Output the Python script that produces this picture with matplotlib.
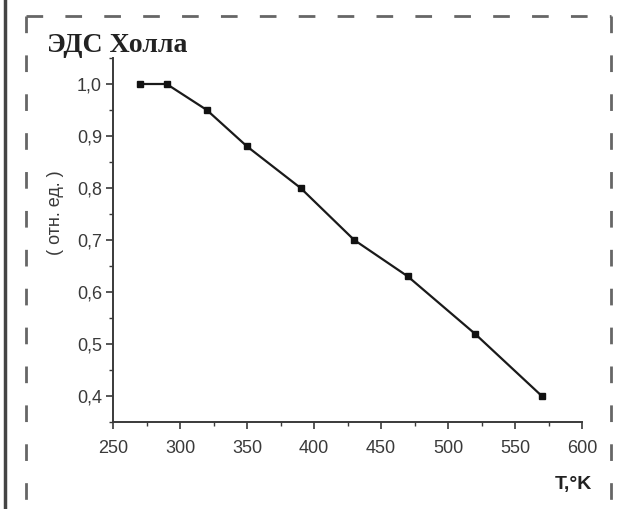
import matplotlib
matplotlib.use("Agg")
import matplotlib.pyplot as plt
from matplotlib.lines import Line2D
from matplotlib.ticker import MultipleLocator, FuncFormatter

# Hall EMF (relative units) versus temperature
temperature = [270, 290, 320, 350, 390, 430, 470, 520, 570]
hall_emf = [1.00, 1.00, 0.95, 0.88, 0.80, 0.70, 0.63, 0.52, 0.40]
x_ticks = [250, 300, 350, 400, 450, 500, 550, 600]
y_ticks = [0.4, 0.5, 0.6, 0.7, 0.8, 0.9, 1.0]

W, H = 618, 509
fig = plt.figure(figsize=(W / 100, H / 100), dpi=100)
ax = fig.add_axes([113 / W, 1 - 422 / H, (582 - 113) / W, (422 - 58) / H])

sans = ["Liberation Sans", "DejaVu Sans"]
ink = "#3a3a3a"

ax.plot(temperature, hall_emf, color="#1a1a1a", lw=1.6, marker="s",
        markersize=5, markerfacecolor="#111111", markeredgecolor="#111111")

ax.set_xlim(250, 600)
ax.set_ylim(0.35, 1.05)
ax.set_xticks(x_ticks)
ax.set_yticks(y_ticks)
ax.xaxis.set_minor_locator(MultipleLocator(25))
ax.yaxis.set_minor_locator(MultipleLocator(0.05))
ax.yaxis.set_major_formatter(FuncFormatter(lambda v, p: f"{v:.1f}".replace(".", ",")))

for side in ("top", "right"):
    ax.spines[side].set_visible(False)
for side in ("left", "bottom"):
    ax.spines[side].set_linewidth(1.4)
    ax.spines[side].set_color(ink)

ax.tick_params(which="major", direction="out", length=5, width=1.2,
               colors=ink, labelsize=13, labelcolor=ink)
ax.tick_params(axis="x", which="major", pad=8)
ax.tick_params(axis="y", which="major", pad=3)
ax.tick_params(which="minor", direction="out", length=3, width=1.0, colors=ink)
for lab in ax.get_xticklabels() + ax.get_yticklabels():
    lab.set_family(sans)

fig.text(55 / W, 1 - 213 / H, "( отн. ед. )", family=sans, fontsize=13, color=ink,
         rotation=90, ha="center", va="center")
fig.text(573 / W, 1 - 484 / H, "T,°K", family=sans, fontsize=14, color="#222222",
         ha="center", va="center", fontweight="bold")
fig.text(47 / W, 1 - 46 / H, "ЭДС Холла", family=["Liberation Serif", "DejaVu Serif"],
         fontsize=20, fontweight="bold", color="#222222", ha="left", va="center")

# dashed border around the plot
for (x0, y0, x1, y1) in [(26, 16, 611, 16), (26, 16, 26, H), (611, 16, 611, H)]:
    fig.add_artist(Line2D([x0 / W, x1 / W], [1 - y0 / H, 1 - y1 / H],
                          transform=fig.transFigure, color="#666666", lw=2.0,
                          linestyle=(0, (6, 8))))

# solid bar on the left edge
fig.add_artist(Line2D([5 / W, 5 / W], [0, 1], transform=fig.transFigure,
                      color="#444444", lw=2.5))

fig.savefig("out.png", dpi=100)
